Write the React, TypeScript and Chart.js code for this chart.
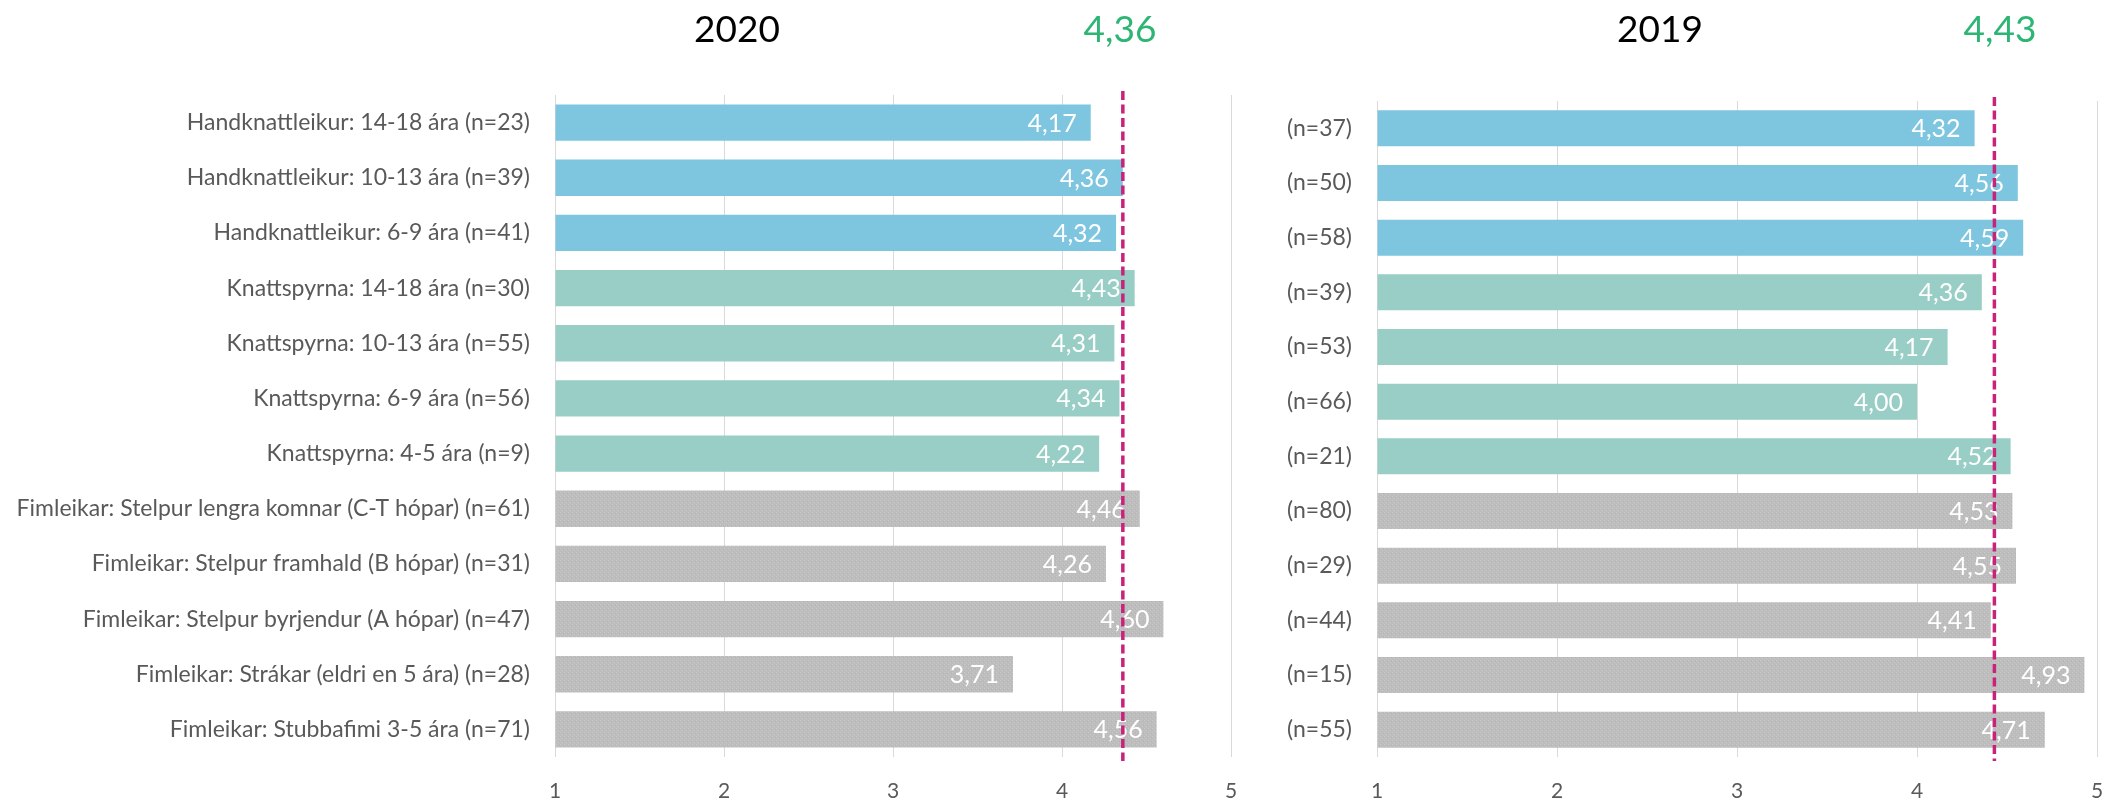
import React, { useEffect, useRef } from "react";
import { Chart, registerables } from "chart.js";
Chart.register(...registerables);

const labels2020 = [
  "Handknattleikur: 14-18 ára (n=23)",
  "Handknattleikur: 10-13 ára (n=39)",
  "Handknattleikur: 6-9 ára (n=41)",
  "Knattspyrna: 14-18 ára (n=30)",
  "Knattspyrna: 10-13 ára (n=55)",
  "Knattspyrna: 6-9 ára (n=56)",
  "Knattspyrna: 4-5 ára (n=9)",
  "Fimleikar: Stelpur lengra komnar (C-T hópar) (n=61)",
  "Fimleikar: Stelpur framhald (B hópar) (n=31)",
  "Fimleikar: Stelpur byrjendur (A hópar) (n=47)",
  "Fimleikar: Strákar (eldri en 5 ára) (n=28)",
  "Fimleikar: Stubbafimi 3-5 ára (n=71)",
];
const values2020 = [4.17, 4.36, 4.32, 4.43, 4.31, 4.34, 4.22, 4.46, 4.26, 4.6, 3.71, 4.56];
const mean2020 = 4.36;

const labels2019 = [
  "(n=37)", "(n=50)", "(n=58)", "(n=39)", "(n=53)", "(n=66)",
  "(n=21)", "(n=80)", "(n=29)", "(n=44)", "(n=15)", "(n=55)",
];
const values2019 = [4.32, 4.56, 4.59, 4.36, 4.17, 4.0, 4.52, 4.53, 4.55, 4.41, 4.93, 4.71];
const mean2019 = 4.43;

const groups = ["hand", "hand", "hand", "fot", "fot", "fot", "fot", "fim", "fim", "fim", "fim", "fim"];
const axisMin = 1;
const axisMax = 5;

const FONT = "Lato, 'Open Sans', sans-serif";

function makeGrayPattern(): CanvasPattern | string {
  const c = document.createElement("canvas");
  c.width = 4;
  c.height = 4;
  const ctx = c.getContext("2d");
  if (!ctx) return "#BFBFBF";
  ctx.fillStyle = "#BDBDBD";
  ctx.fillRect(0, 0, 4, 4);
  ctx.fillStyle = "#C9C9C9";
  ctx.fillRect(0, 0, 1, 1);
  ctx.fillRect(2, 2, 1, 1);
  ctx.fillStyle = "#B4B4B4";
  ctx.fillRect(3, 1, 1, 1);
  const p = ctx.createPattern(c, "repeat");
  return p || "#BFBFBF";
}

function colorsFor(g: string[]) {
  const gray = makeGrayPattern();
  return g.map((k) => (k === "hand" ? "#7EC5E0" : k === "fot" ? "#99CEC6" : gray));
}

const valueLabels = {
  id: "valueLabels",
  afterDatasetsDraw(chart: any) {
    const ctx = chart.ctx;
    const meta = chart.getDatasetMeta(0);
    const data = chart.data.datasets[0].data as number[];
    ctx.save();
    ctx.fillStyle = "#FFFFFF";
    ctx.font = `25px ${FONT}`;
    ctx.textAlign = "right";
    ctx.textBaseline = "middle";
    meta.data.forEach((bar: any, i: number) => {
      ctx.fillText(data[i].toFixed(2).replace(".", ","), bar.x - 14, bar.y + 1);
    });
    ctx.restore();
  },
};

const meanLine = {
  id: "meanLine",
  afterDraw(chart: any) {
    const mean = chart.options.plugins.meanLine.value;
    const x = chart.scales.x.getPixelForValue(mean);
    const { top, bottom } = chart.chartArea;
    const ctx = chart.ctx;
    ctx.save();
    ctx.strokeStyle = "#C8237B";
    ctx.lineWidth = 3.5;
    ctx.setLineDash([9, 4.5]);
    ctx.beginPath();
    ctx.moveTo(x, top - 4);
    ctx.lineTo(x, bottom + 4);
    ctx.stroke();
    ctx.restore();
  },
};

function makeConfig(labels: string[], values: number[], mean: number, yWidth: number, padTop: number, padRight: number): any {
  return {
    type: "bar",
    data: {
      labels,
      datasets: [
        {
          data: values,
          backgroundColor: colorsFor(groups),
          base: axisMin,
          barPercentage: 0.66,
          categoryPercentage: 1,
          borderWidth: 0,
        },
      ],
    },
    options: {
      indexAxis: "y",
      responsive: false,
      animation: false,
      devicePixelRatio: 1,
      layout: { padding: { top: padTop, right: padRight, left: 0, bottom: 0 } },
      plugins: {
        legend: { display: false },
        tooltip: { enabled: false },
        meanLine: { value: mean },
      },
      scales: {
        x: {
          type: "linear",
          min: axisMin,
          max: axisMax,
          ticks: {
            stepSize: 1,
            color: "#595959",
            font: { family: FONT, size: 21 },
            padding: 22,
          },
          grid: { color: "#D9D9D9", lineWidth: 1, drawTicks: false },
          border: { display: false },
          afterFit: (s: any) => {
            s.height = 45;
            s.paddingLeft = 0;
            s.paddingRight = 0;
          },
        },
        y: {
          grid: { display: false },
          border: { display: false },
          ticks: {
            color: "#595959",
            font: { family: FONT, size: 23 },
            padding: 17,
            autoSkip: false,
          },
          afterFit: (s: any) => {
            s.width = yWidth;
            s.paddingTop = 0;
            s.paddingBottom = 0;
          },
        },
      },
    },
    plugins: [valueLabels, meanLine],
  };
}

export default function App() {
  const ref1 = useRef<HTMLCanvasElement>(null);
  const ref2 = useRef<HTMLCanvasElement>(null);

  useEffect(() => {
    document.body.style.margin = "0";
    document.body.style.overflow = "hidden";
    const c1 = new Chart(ref1.current as HTMLCanvasElement, makeConfig(labels2020, values2020, mean2020, 555, 95, 9));
    const c2 = new Chart(ref2.current as HTMLCanvasElement, makeConfig(labels2019, values2019, mean2019, 137, 101, 24));
    return () => {
      c1.destroy();
      c2.destroy();
    };
  }, []);

  const title = (text: string, cx: number, color: string) => (
    <div
      style={{
        position: "absolute",
        left: cx,
        top: 27,
        transform: "translate(-50%, -50%)",
        fontFamily: FONT,
        fontSize: 37,
        color,
        whiteSpace: "nowrap",
        lineHeight: 1,
      }}
    >
      {text}
    </div>
  );

  return (
    <div style={{ position: "absolute", left: 0, top: 0, width: 2121, height: 802, background: "#fff" }}>
      <canvas ref={ref1} width={1240} height={802} style={{ position: "absolute", left: 0, top: 0 }} />
      <canvas ref={ref2} width={881} height={802} style={{ position: "absolute", left: 1240, top: 0 }} />
      {title("2020", 737, "#000000")}
      {title(mean2020.toFixed(2).replace(".", ","), 1120, "#2DB574")}
      {title("2019", 1660, "#000000")}
      {title(mean2019.toFixed(2).replace(".", ","), 2000, "#2DB574")}
    </div>
  );
}
